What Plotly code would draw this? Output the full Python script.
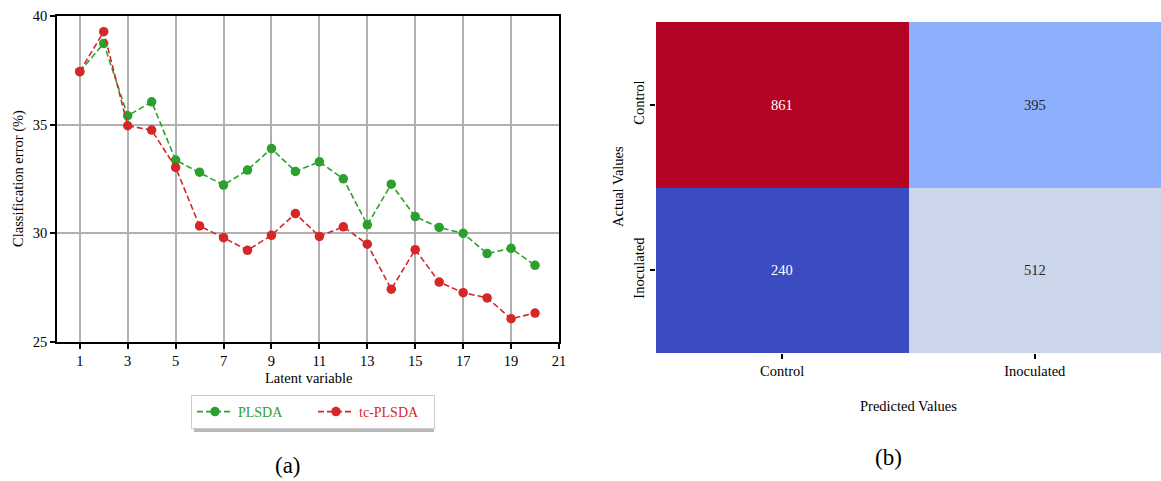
import plotly.graph_objects as go

# ---- data -------------------------------------------------------------
latent = list(range(1, 21))
plsda_err = [37.44, 38.74, 35.41, 36.05, 33.37, 32.81, 32.22, 32.91, 33.90, 32.85,
             33.29, 32.51, 30.39, 32.26, 30.77, 30.27, 30.00, 29.07, 29.31, 28.53]
tc_plsda_err = [37.44, 39.28, 34.95, 34.75, 33.03, 30.34, 29.80, 29.22, 29.91, 30.91,
                29.86, 30.30, 29.50, 27.43, 29.25, 27.76, 27.27, 27.03, 26.07, 26.33]
x_ticks = list(range(1, 22, 2))
y_ticks = [25, 30, 35, 40]

classes = ["Control", "Inoculated"]
confusion = [[861, 395],
             [240, 512]]

GREEN = "#2ca02c"
RED = "#d62728"
SERIF = "Liberation Serif"
FS = 14.5

W, H = 1161, 481


def px_x(p):
    return p / W


def px_y(p):
    return 1 - p / H


def label(text, x, y, size=FS, angle=0):
    fig.add_annotation(x=px_x(x), y=px_y(y), xref="paper", yref="paper", text=text,
                       showarrow=False, textangle=angle, xanchor="center", yanchor="middle",
                       font=dict(family=SERIF, size=size, color="black"))


fig = go.Figure()

# ---- (a) classification error vs latent variables ----------------------
for name, vals, col in [("PLSDA", plsda_err, GREEN), ("tc-PLSDA", tc_plsda_err, RED)]:
    fig.add_trace(go.Scatter(
        x=latent, y=vals, mode="lines+markers",
        name=f'<span style="color:{col}">{name}</span>',
        line=dict(color=col, width=1.6, dash="6px,3px"),
        marker=dict(color=col, size=9.5),
        xaxis="x", yaxis="y",
    ))

axis_common = dict(
    showline=True, linecolor="black", linewidth=1.5, mirror=True,
    ticks="outside", ticklen=5, tickwidth=1.5, tickcolor="black",
    showgrid=True, gridcolor="#b0b0b0", gridwidth=1.5, automargin=False,
    zeroline=False, tickfont=dict(family=SERIF, size=FS, color="black"),
)
fig.update_layout(
    xaxis=dict(domain=[px_x(57), px_x(559)], range=[0.05, 21], tickvals=x_ticks,
               anchor="y", **axis_common),
    yaxis=dict(domain=[px_y(342), px_y(16)], range=[25, 40], tickvals=y_ticks,
               anchor="x", **axis_common),
)
label("Latent variable", 308, 378)
label("Classification error (%)", 18, 179, angle=-90)

# ---- (b) confusion matrix ---------------------------------------------
coolwarm = [
    [0.0, "rgb(59,76,192)"], [0.125, "rgb(98,130,234)"], [0.25, "rgb(141,176,254)"],
    [0.375, "rgb(184,208,249)"], [0.5, "rgb(221,220,220)"], [0.625, "rgb(245,196,173)"],
    [0.75, "rgb(244,154,123)"], [0.875, "rgb(222,96,77)"], [1.0, "rgb(180,4,38)"],
]
fig.add_trace(go.Heatmap(
    z=confusion, x=classes, y=classes, colorscale=coolwarm, showscale=False,
    xaxis="x2", yaxis="y2", hoverinfo="skip", xgap=0, ygap=0,
))

zmin = min(min(r) for r in confusion)
zmax = max(max(r) for r in confusion)
for i, row in enumerate(confusion):
    for j, v in enumerate(row):
        frac = (v - zmin) / (zmax - zmin)
        tcol = "white" if (frac < 0.2 or frac > 0.8) else "#262626"
        fig.add_annotation(x=classes[j], y=classes[i], xref="x2", yref="y2",
                           text=str(v), showarrow=False,
                           font=dict(family=SERIF, size=FS, color=tcol))

heat_axis = dict(showline=False, showgrid=False, zeroline=False, automargin=False,
                 ticks="outside", ticklen=5, tickwidth=1.5, tickcolor="black",
                 tickfont=dict(family=SERIF, size=FS, color="black"))
fig.update_layout(
    xaxis2=dict(domain=[px_x(656), px_x(1161)], anchor="y2", **heat_axis),
    yaxis2=dict(domain=[px_y(353), px_y(22)], anchor="x2", autorange="reversed",
                tickangle=-90, **heat_axis),
)
label("Predicted Values", 909, 406)
label("Actual Values", 618, 187, angle=-90)

# ---- legend, shadow and panel captions ---------------------------------
fig.update_layout(
    legend=dict(orientation="h", x=px_x(191), y=px_y(395), xanchor="left", yanchor="top",
                bgcolor="white", bordercolor="#cccccc", borderwidth=1,
                font=dict(family=SERIF, size=14), itemwidth=36, entrywidth=70,
                tracegroupgap=0),
)
fig.add_shape(type="rect", xref="paper", yref="paper",
              x0=px_x(194), x1=px_x(434), y0=px_y(432), y1=px_y(398),
              fillcolor="#b8b8b8", line=dict(width=0), layer="below")

label("(a)", 288, 465, size=23)
label("(b)", 888, 457, size=23)

fig.update_layout(
    width=W, height=H, margin=dict(l=0, r=0, t=0, b=0, autoexpand=False),
    paper_bgcolor="white", plot_bgcolor="white", showlegend=True,
)

fig.write_html("out.html")
